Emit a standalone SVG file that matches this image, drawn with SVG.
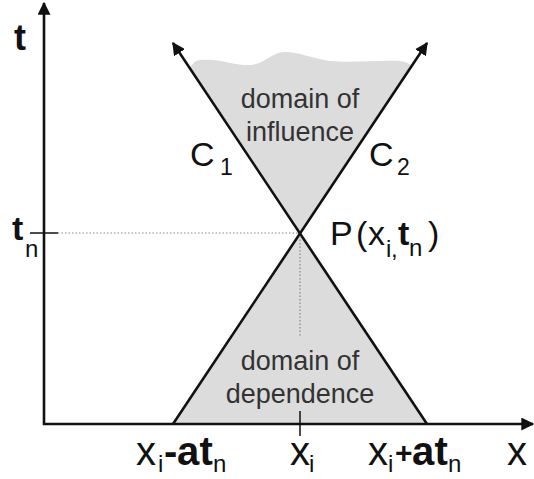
<svg xmlns="http://www.w3.org/2000/svg" width="534" height="479" viewBox="0 0 534 479">
  <defs>
    <marker id="arr" viewBox="0 0 10 10" refX="9" refY="5" markerWidth="5" markerHeight="5" orient="auto" markerUnits="strokeWidth">
      <path d="M0,0 L10,5 L0,10 z" fill="#111"/>
    </marker>
    <style>
      .ln { stroke:#111; stroke-width:2.6; fill:none; }
      .tick { stroke:#111; stroke-width:1.5; fill:none; }
      .dot { stroke:#888; stroke-width:1.2; stroke-dasharray:1.5 2; fill:none; }
      .area { fill:#dcdcdc; stroke:none; }
      text { font-family:"Liberation Sans", Arial, sans-serif; fill:#111; }
      .dom { font-size:27px; fill:#333; text-anchor:middle; }
      .big { font-size:40px; }
      .sub { font-size:24px; }
      .b { font-weight:bold; }
    </style>
  </defs>

  <g id="regions">
    <path id="influence-region" class="area" d="M300,233 L190,70 Q192,61 200,60 C220,58 235,66 250,65 C265,64 272,52 285,52 C300,52 310,58 330,61 C350,63 380,60 400,61 Q408,62 412,66 Z"/>
    <path id="dependence-region" class="area" d="M300,233 L173,424 L427,424 Z"/>
  </g>

  <g id="connectors">
    <line id="y-axis" class="ln" x1="44" y1="425" x2="44" y2="3" marker-end="url(#arr)"/>
    <line id="x-axis" class="ln" x1="43" y1="424" x2="533" y2="424" marker-end="url(#arr)"/>
    <line id="C1-line" class="ln" x1="427" y1="424" x2="173" y2="43" marker-end="url(#arr)"/>
    <line id="C2-line" class="ln" x1="173" y1="424" x2="427" y2="43" marker-end="url(#arr)"/>
    <line class="tick" x1="30" y1="233" x2="58" y2="233"/>
    <line class="tick" x1="300" y1="411" x2="300" y2="436"/>
    <line class="dot" x1="58" y1="233" x2="298" y2="233"/>
    <line class="dot" x1="300" y1="236" x2="300" y2="336"/>
  </g>

  <g id="label-t">
    <text x="14" y="50" class="b" font-size="36">t</text>
  </g>
  <g id="label-tn">
    <text x="12" y="240" class="b" font-size="34">t</text>
    <text x="25" y="257" class="sub">n</text>
  </g>
  <g id="label-C1">
    <text x="190" y="166" font-size="34">C</text>
    <text x="220" y="175" font-size="23">1</text>
  </g>
  <g id="label-C2">
    <text x="369" y="166" font-size="34">C</text>
    <text x="397" y="175" font-size="23">2</text>
  </g>
  <g id="label-influence">
    <text class="dom" x="300" y="108">domain of</text>
    <text class="dom" x="300" y="141">influence</text>
  </g>
  <g id="label-dependence">
    <text class="dom" x="300" y="370">domain of</text>
    <text class="dom" x="300" y="403">dependence</text>
  </g>
  <g id="label-P">
    <text x="330" y="245" font-size="34">P</text>
    <text x="356" y="245" font-size="34">(</text>
    <text x="368" y="245" font-size="34">x</text>
    <text x="386" y="257" font-size="24">i</text>
    <text x="391" y="257" font-size="24">,</text>
    <text x="398" y="245" font-size="34" class="b">t</text>
    <text x="409" y="256" font-size="24">n</text>
    <text x="428" y="245" font-size="34">)</text>
  </g>
  <g id="label-left">
    <text x="136" y="465" class="big">x</text>
    <text x="158" y="472" class="sub">i</text>
    <text x="164" y="465" class="big b">-</text>
    <text x="177" y="465" class="big b">a</text>
    <text x="199.5" y="465" class="big b">t</text>
    <text x="213" y="472" class="sub">n</text>
  </g>
  <g id="label-xi">
    <text x="290" y="465" class="big">x</text>
    <text x="309" y="472" class="sub">i</text>
  </g>
  <g id="label-right">
    <text x="368" y="465" class="big">x</text>
    <text x="388" y="472" class="sub">i</text>
    <text x="395" y="463" class="b" font-size="30">+</text>
    <text x="412" y="465" class="big b">a</text>
    <text x="434.5" y="465" class="big b">t</text>
    <text x="448" y="472" class="sub">n</text>
  </g>
  <g id="label-x">
    <text x="507" y="465" class="big">x</text>
  </g>
</svg>
